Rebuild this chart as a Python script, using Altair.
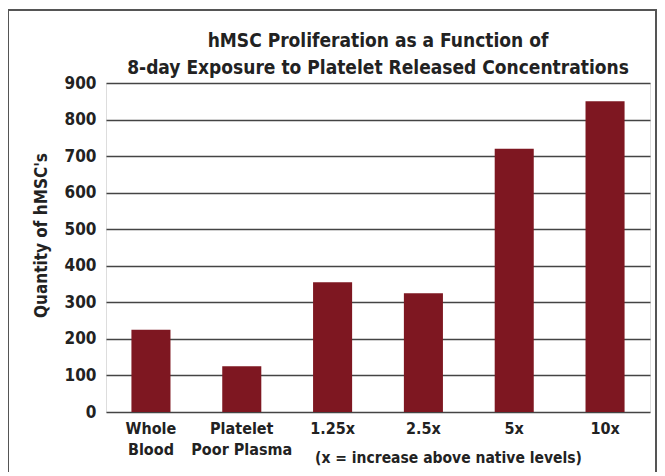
import altair as alt
import pandas as pd

categories = ["Whole Blood", "Platelet Poor Plasma", "1.25x", "2.5x", "5x", "10x"]
values = [225, 125, 355, 325, 720, 850]
y_ticks = [0, 100, 200, 300, 400, 500, 600, 700, 800, 900]
title_lines = ["hMSC Proliferation as a Function of",
               "8-day Exposure to Platelet Released Concentrations"]

df = pd.DataFrame({"cat": categories, "val": values})

FONT = "DejaVu Sans Condensed, Liberation Sans Narrow, Liberation Sans, Arial, sans-serif"
BAR = "#7E1721"

label_expr = ("datum.label == 'Whole Blood' ? ['Whole', 'Blood'] : "
              "datum.label == 'Platelet Poor Plasma' ? ['Platelet', 'Poor Plasma'] : datum.label")

bars = alt.Chart(df).mark_bar(color=BAR).encode(
    x=alt.X("cat:N", sort=categories,
            scale=alt.Scale(paddingInner=0.57, paddingOuter=0.28),
            axis=alt.Axis(title="(x = increase above native levels)", labelAngle=0,
                          labelExpr=label_expr, labelFont=FONT, labelFontSize=16,
                          labelFontWeight="bold", labelColor="#222", labelLineHeight=21,
                          labelPadding=8, ticks=False, domain=False,
                          titleFont=FONT, titleFontSize=15.5, titleFontWeight="bold",
                          titleColor="#222", titleX=342, titleY=45,
                          titleAlign="center", titleBaseline="middle")),
    y=alt.Y("val:Q", scale=alt.Scale(domain=[0, 900], nice=False),
            axis=alt.Axis(title="Quantity of hMSC's", values=y_ticks, ticks=False,
                          domain=False, labelFont=FONT, labelFontSize=17,
                          labelFontWeight="bold", labelColor="#222", labelPadding=10,
                          gridColor="#444", gridWidth=1.5, gridOpacity=1,
                          titleFont=FONT, titleFontSize=17, titleFontWeight="bold",
                          titleColor="#222", titlePadding=14, titleY=152)),
)

frame = alt.Chart(df).mark_rect(fill=None, stroke="#555", strokeWidth=1.5, clip=False).encode(
    x=alt.value(-98), x2=alt.value(550), y=alt.value(-73), y2=alt.value(440)
)

title_df = pd.DataFrame({"t": title_lines, "row": [0, 1]})
title = alt.Chart(title_df).mark_text(
    font=FONT, fontSize=19, fontWeight="bold", color="#222", align="center", baseline="middle"
).encode(
    text="t:N",
    x=alt.value(272),
    y=alt.Y("row:Q", scale=alt.Scale(domain=[0, 1], range=[-42, -15]), axis=None),
)

chart = alt.layer(frame, bars, title).resolve_scale(y="independent").properties(
    width=544, height=329,
    padding={"left": 98, "top": 75, "right": 7, "bottom": 60},
    autosize=alt.AutoSizeParams(type="none"),
).configure_view(stroke="#444", strokeWidth=1.5).configure(background="white")

chart.save("out.html", embed_options={"renderer": "svg", "actions": False})
